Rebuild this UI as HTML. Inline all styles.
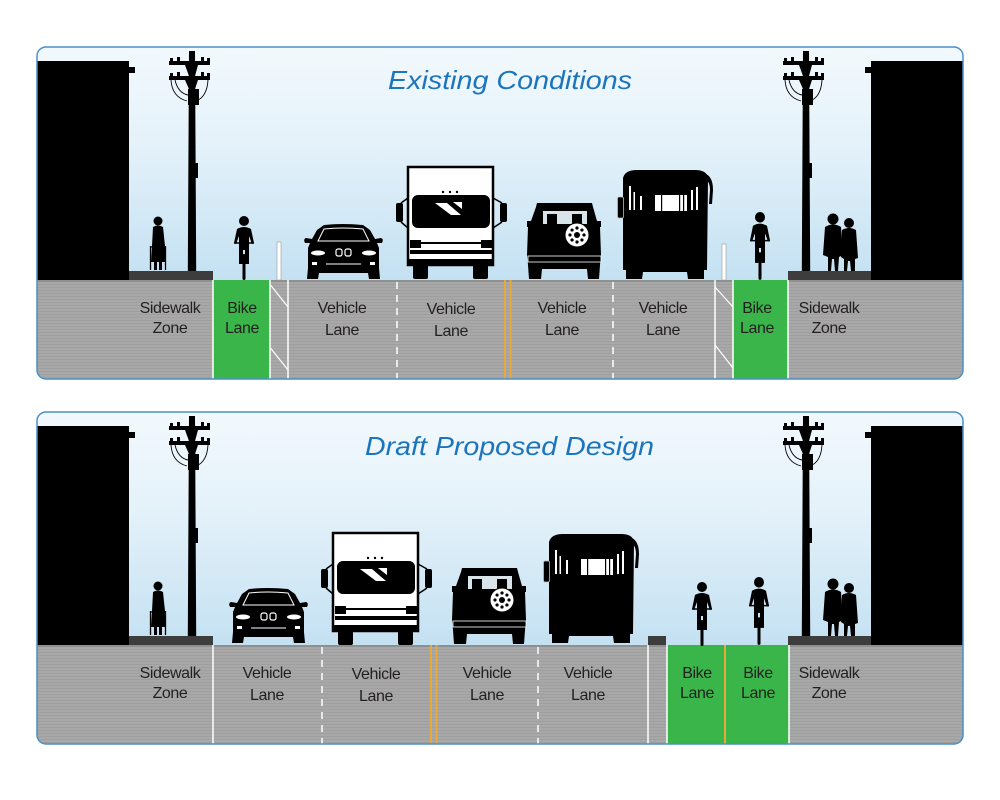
<!DOCTYPE html>
<html><head><meta charset="utf-8"><style>
html,body{margin:0;padding:0;background:#fff;}
svg{display:block;}
text{font-family:"Liberation Sans",Arial,sans-serif;}
</style></head><body>
<svg width="1000" height="800" viewBox="0 0 1000 800" xmlns="http://www.w3.org/2000/svg">
<defs>
 <linearGradient id="sky" x1="0" y1="0" x2="0" y2="1">
  <stop offset="0" stop-color="#f2f9fd"/>
  <stop offset="0.4" stop-color="#e5f2fa"/>
  <stop offset="1" stop-color="#c4e1f2"/>
 </linearGradient>
 <pattern id="asph" width="6" height="3" patternUnits="userSpaceOnUse">
  <rect width="6" height="3" fill="#a8a8a8"/>
  <rect y="2" width="6" height="1" fill="#9f9f9f"/>
 </pattern>
 <clipPath id="clip"><rect x="37" y="47" width="926" height="332" rx="9"/></clipPath>

 <g id="pole" fill="#000">
  <path d="M-3,0 L3,0 L4.2,220 L-4.2,220 Z"/>
  <rect x="-23" y="10" width="41" height="4"/>
  <rect x="-23" y="25" width="41" height="4"/>
  <rect x="-22" y="7" width="3" height="4"/><rect x="-15" y="6" width="3" height="5"/><rect x="9" y="6" width="3" height="5"/><rect x="15" y="7" width="3" height="4"/>
  <rect x="-22" y="22" width="3" height="4"/><rect x="-15" y="21" width="3" height="5"/><rect x="9" y="21" width="3" height="5"/><rect x="15" y="22" width="3" height="4"/>
  <path d="M-7,14 L6,14 L3,25 L-3,25 Z"/>
  <path d="M-7,29 L6,29 L3,38 L-3,38 Z"/>
  <rect x="-4" y="38" width="11" height="16"/>
  <rect x="2" y="112" width="4" height="15"/>
  <path d="M-21,29 Q-20,46 -5,50 M16,29 Q15,46 4,50 M-17,29 Q-14,42 -4,44" fill="none" stroke="#000" stroke-width="0.9"/>
 </g>

 <g id="ped1" fill="#000">
  <circle cx="9" cy="5" r="4.5"/>
  <path d="M4,11 Q9,8 14,11 L16,30 L17,46 L2,46 L3,30 Z"/>
  <rect x="5" y="45" width="3" height="9"/><rect x="10" y="45" width="3" height="9"/>
  <path d="M1.5,30 L1.5,54 M16.5,30 L16.5,54 M1.5,31 L16.5,31" stroke="#000" stroke-width="1.3" fill="none"/>
 </g>

 <g id="pair" fill="#000">
  <circle cx="11" cy="6" r="5.5"/>
  <path d="M3,14 Q11,9 19,14 L21,42 L17,44 L16,58 L13,58 L12,46 L10,46 L9,58 L6,58 L6,44 L1,42 Z"/>
  <circle cx="27" cy="10" r="5"/>
  <path d="M20,17 Q27,13 34,17 L36,45 L33,46 L33,58 L29,58 L28,48 L26,48 L25,58 L22,58 L22,46 L19,44 Z"/>
 </g>

 <g id="car">
  <path fill="#000" d="M20,1 Q39,-1 59,1 L66,6 L71,15 L77,14 Q80,15 78,19 L73,19 L75,24 L75,44 L76,55 L65,55 L64,49 L15,49 L14,55 L3,55 L4,44 L4,24 L6,19 L1,19 Q-1,15 2,14 L8,15 L13,6 Z"/>
  <path d="M14,17 L20,5 Q39,3 59,5 L65,17 Z" fill="none" stroke="#fff" stroke-width="1"/>
  <ellipse cx="14" cy="29" rx="7" ry="2.5" fill="#fff"/>
  <ellipse cx="65" cy="29" rx="7" ry="2.5" fill="#fff"/>
  <rect x="32" y="25" width="6" height="7" rx="2" fill="none" stroke="#fff" stroke-width="1.2"/>
  <rect x="41" y="25" width="6" height="7" rx="2" fill="none" stroke="#fff" stroke-width="1.2"/>
  <path d="M22,40 L57,40" stroke="#fff" stroke-width="1"/>
  <rect x="8" y="38" width="5" height="3" fill="#fff"/><rect x="66" y="38" width="5" height="3" fill="#fff"/>
 </g>

 <g id="truck" fill="#000">
  <rect x="13" y="2" width="85" height="98" fill="#fff" stroke="#000" stroke-width="2.5"/>
  <rect x="17" y="30" width="78" height="33" rx="6"/>
  <polygon points="40,38 52,38 66,50 56,50" fill="#fff"/>
  <polygon points="58,37 67,37 67,44" fill="#fff"/>
  <rect x="1" y="38" width="7" height="19" rx="2"/>
  <rect x="105" y="38" width="7" height="19" rx="2"/>
  <path d="M6,38 L13,33 M6,57 L13,63 M107,38 L98,33 M107,57 L98,63" stroke="#000" stroke-width="1.5" fill="none"/>
  <circle cx="48" cy="27" r="1.2"/><circle cx="55" cy="27" r="1.2"/><circle cx="62" cy="27" r="1.2"/>
  <rect x="15" y="75" width="11" height="8"/><rect x="86" y="75" width="11" height="8"/>
  <rect x="26" y="77" width="60" height="2"/>
  <rect x="15" y="85" width="82" height="4"/>
  <rect x="14" y="94" width="84" height="6"/>
  <rect x="18" y="99" width="15" height="15" rx="2"/><rect x="78" y="99" width="15" height="15" rx="2"/>
 </g>

 <g id="jeep">
  <path fill="#000" d="M12,0 L67,0 L68,4 L72,18 L76,18 L76,24 L75,24 L76,52 L75,62 L74,76 L63,76 L62,66 L17,66 L16,76 L4,76 L3,62 L2,52 L3,24 L2,24 L2,18 L6,18 L11,4 Z"/>
  <rect x="18" y="8" width="44" height="13" fill="#d8e4ea"/>
  <rect x="22" y="11" width="10" height="10" fill="#000"/><rect x="47" y="11" width="10" height="10" fill="#000"/>
  <circle cx="52" cy="32" r="12" fill="#fff" stroke="#000" stroke-width="1"/>
  <g fill="#000">
   <circle cx="59" cy="32" r="1.6"/><circle cx="56.95" cy="36.95" r="1.6"/><circle cx="52" cy="39" r="1.6"/><circle cx="47.05" cy="36.95" r="1.6"/>
   <circle cx="45" cy="32" r="1.6"/><circle cx="47.05" cy="27.05" r="1.6"/><circle cx="52" cy="25" r="1.6"/><circle cx="56.95" cy="27.05" r="1.6"/>
   <circle cx="52" cy="32" r="3"/>
  </g>
  <rect x="3" y="53" width="73" height="6" fill="#000" stroke="#fff" stroke-width="0.8"/>
 </g>

 <g id="bus">
  <path fill="#000" d="M6,8 Q8,0 20,0 L78,0 Q90,0 91,8 L90,100 L87,100 L87,109 L71,109 L70,102 L26,102 L25,109 L9,109 L9,100 L6,100 Z"/>
  <path fill="#000" d="M86,3 Q96,5 96,20 L95,34 L92,34 L93,20 Q93,10 86,8 Z"/>
  <rect x="0.5" y="27" width="6" height="21" rx="1.5" fill="#000" stroke="#bbb" stroke-width="0.8"/>
  <rect x="38" y="25" width="32" height="16" fill="#fff"/>
  <rect x="44" y="25" width="1.2" height="16" fill="#000"/>
  <rect x="62" y="25" width="1.2" height="16" fill="#000"/>
  <rect x="66" y="25" width="1.2" height="16" fill="#000"/>
  <rect x="12" y="16" width="2" height="24" fill="#fff"/>
  <rect x="16.5" y="22" width="1.5" height="18" fill="#fff"/>
  <rect x="23" y="26" width="2" height="14" fill="#fff"/>
  <rect x="74" y="20" width="2" height="20" fill="#fff"/>
  <rect x="79" y="17" width="2" height="23" fill="#fff"/>
 </g>

 <g id="cyc" fill="#000">
  <circle cx="11" cy="5" r="5"/>
  <path d="M4,13 Q11,9 18,13 L21,27 L19,28 L16,20 L16,34 L6,34 L6,20 L3,28 L1,27 Z"/>
  <rect x="6" y="33" width="4" height="15"/><rect x="12" y="33" width="4" height="15"/>
  <rect x="9.5" y="38" width="3" height="26" rx="1.5"/>
  <path d="M1,27 L21,27" stroke="#000" stroke-width="1.5"/>
 </g>

 <g id="base">
  <rect x="37" y="47" width="926" height="233" fill="url(#sky)"/>
  <rect x="37" y="280" width="926" height="99" fill="url(#asph)"/>
  <rect x="37" y="280" width="926" height="2" fill="#8f8f8f"/>
  <rect x="37" y="61" width="92" height="219" fill="#000"/>
  <rect x="128" y="67" width="7" height="6" fill="#000"/>
  <rect x="871" y="61" width="92" height="219" fill="#000"/>
  <rect x="865" y="67" width="7" height="6" fill="#000"/>
  <rect x="129" y="271" width="84" height="9" fill="#3d3d3d"/>
  <rect x="788" y="271" width="83" height="9" fill="#3d3d3d"/>
  <use href="#pole" transform="translate(192,51)"/>
  <use href="#pole" transform="translate(806,51)"/>
  <use href="#ped1" transform="translate(149,216)"/>
  <use href="#pair" transform="translate(822,213)"/>
 </g>
</defs>

<!-- TOP PANEL -->
<g>
 <g clip-path="url(#clip)">
  <use href="#base"/>
  <rect x="213" y="280" width="57" height="99" fill="#3ab54a"/>
  <rect x="733" y="280" width="55" height="99" fill="#3ab54a"/>
  <g stroke="#fff" stroke-width="1.5" fill="none">
   <path d="M213,280V379 M270,280V379 M288,280V379 M715,280V379 M733,280V379 M788,280V379"/>
   <path d="M270.5,285 L288,307 M270.5,348 L288,370 M715,287 L733,307 M715,345 L733,368" stroke-width="1.2"/>
   <path d="M397,282V379 M613,282V379" stroke-dasharray="7 6"/>
  </g>
  <path d="M505,280V379 M510.5,280V379" stroke="#e9a93a" stroke-width="2"/>
  <rect x="277" y="242" width="4" height="38" fill="#fff" stroke="#999" stroke-width="0.6"/>
  <rect x="722" y="244" width="4" height="36" fill="#fff" stroke="#999" stroke-width="0.6"/>
  <use href="#car" transform="translate(304,224)"/>
  <use href="#truck" transform="translate(395,165)"/>
  <use href="#jeep" transform="translate(525,203)"/>
  <use href="#bus" transform="translate(617,170)"/>
  <use href="#cyc" transform="translate(233,216)"/>
  <use href="#cyc" transform="translate(749,212) scale(1,1.06)"/>
  <text x="388" y="89" font-size="26" font-style="italic" fill="#1c75bc" textLength="244" lengthAdjust="spacingAndGlyphs">Existing Conditions</text>
  <g font-size="16" fill="#231f20" text-anchor="middle" letter-spacing="-0.4">
   <text x="170" y="313">Sidewalk</text><text x="170" y="333">Zone</text>
   <text x="242" y="313">Bike</text><text x="242" y="333">Lane</text>
   <text x="342" y="313">Vehicle</text><text x="342" y="335">Lane</text>
   <text x="451" y="314">Vehicle</text><text x="451" y="336">Lane</text>
   <text x="562" y="313">Vehicle</text><text x="562" y="335">Lane</text>
   <text x="663" y="313">Vehicle</text><text x="663" y="335">Lane</text>
   <text x="757" y="313">Bike</text><text x="757" y="333">Lane</text>
   <text x="829" y="313">Sidewalk</text><text x="829" y="333">Zone</text>
  </g>
 </g>
 <rect x="37" y="47" width="926" height="332" rx="9" fill="none" stroke="#4a90c8" stroke-width="1.5"/>
</g>

<!-- BOTTOM PANEL -->
<g transform="translate(0,365)">
 <g clip-path="url(#clip)">
  <use href="#base"/>
  <rect x="648" y="271" width="18" height="9" fill="#3d3d3d"/>
  <rect x="667" y="280" width="122" height="99" fill="#3ab54a"/>
  <path d="M725,280V379" stroke="#e9a93a" stroke-width="2"/>
  <g stroke="#fff" stroke-width="1.5" fill="none">
   <path d="M213,280V379 M648,280V379 M667,280V379 M789,280V379"/>
   <path d="M322,282V379 M538,282V379" stroke-dasharray="7 6"/>
  </g>
  <path d="M431,280V379 M436.5,280V379" stroke="#e9a93a" stroke-width="2"/>
  <use href="#car" transform="translate(229,223)"/>
  <use href="#truck" transform="translate(320,166)"/>
  <use href="#jeep" transform="translate(450,203)"/>
  <use href="#bus" transform="translate(543,169)"/>
  <use href="#cyc" transform="translate(691,217)"/>
  <use href="#cyc" transform="translate(748,212) scale(1,1.06)"/>
  <text x="365" y="90" font-size="26" font-style="italic" fill="#1c75bc" textLength="289" lengthAdjust="spacingAndGlyphs">Draft Proposed Design</text>
  <g font-size="16" fill="#231f20" text-anchor="middle" letter-spacing="-0.4">
   <text x="170" y="313">Sidewalk</text><text x="170" y="333">Zone</text>
   <text x="267" y="313">Vehicle</text><text x="267" y="335">Lane</text>
   <text x="376" y="314">Vehicle</text><text x="376" y="336">Lane</text>
   <text x="487" y="313">Vehicle</text><text x="487" y="335">Lane</text>
   <text x="588" y="313">Vehicle</text><text x="588" y="335">Lane</text>
   <text x="697" y="313">Bike</text><text x="697" y="333">Lane</text>
   <text x="758" y="313">Bike</text><text x="758" y="333">Lane</text>
   <text x="829" y="313">Sidewalk</text><text x="829" y="333">Zone</text>
  </g>
 </g>
 <rect x="37" y="47" width="926" height="332" rx="9" fill="none" stroke="#4a90c8" stroke-width="1.5"/>
</g>
</svg>
</body></html>
